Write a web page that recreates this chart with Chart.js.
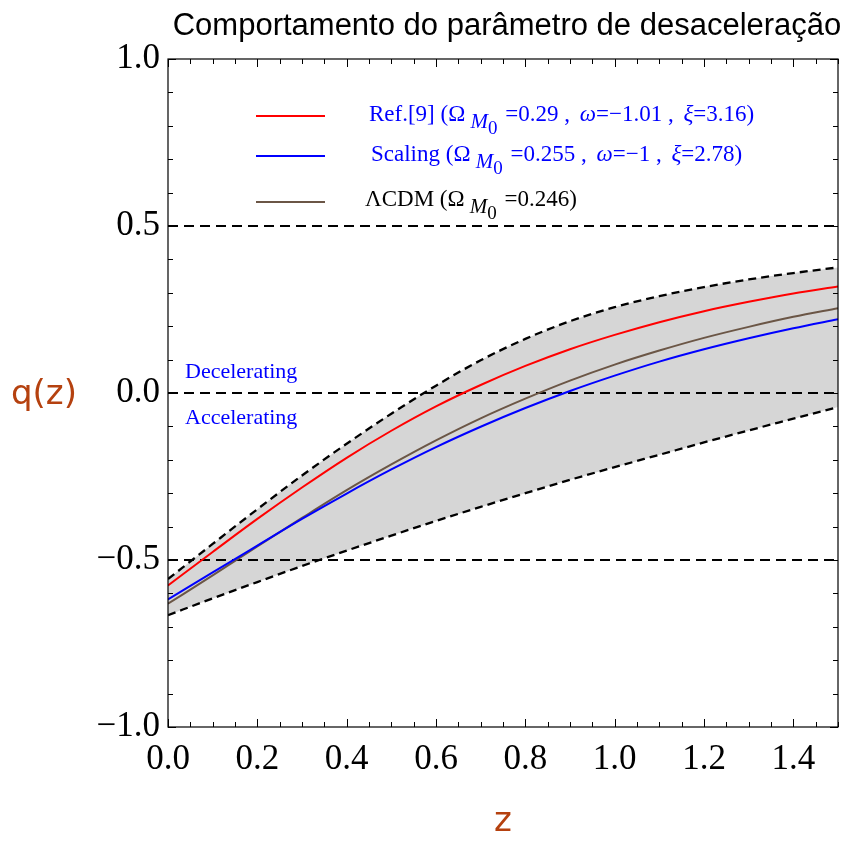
<!DOCTYPE html>
<html>
<head>
<meta charset="utf-8">
<script src="https://cdn.jsdelivr.net/npm/chart.js@4.4.1/dist/chart.umd.min.js"></script>
<style>
html, body { margin: 0; padding: 0; background: #ffffff; }
canvas { display: block; }
</style>
</head>
<body>
<canvas id="c" width="855" height="844"></canvas>
<script>
// Redshift samples
const zValues = [0.0, 0.1, 0.2, 0.3, 0.4, 0.5, 0.6, 0.7, 0.8, 0.9, 1.0, 1.1, 1.2, 1.3, 1.4, 1.5];
// Deceleration parameter q(z) for each model
const qRef9    = [-0.576, -0.476, -0.377, -0.283, -0.194, -0.113, -0.040, 0.024, 0.081, 0.131, 0.174, 0.212, 0.245, 0.273, 0.298, 0.319];
const qScaling = [-0.618, -0.537, -0.457, -0.377, -0.301, -0.229, -0.162, -0.101, -0.045, 0.006, 0.052, 0.094, 0.131, 0.164, 0.194, 0.221];
const qLCDM    = [-0.631, -0.546, -0.459, -0.374, -0.291, -0.214, -0.142, -0.076, -0.017, 0.037, 0.085, 0.127, 0.165, 0.198, 0.228, 0.254];
// Confidence band limits
const qUpper   = [-0.557, -0.452, -0.348, -0.247, -0.152, -0.062, 0.022, 0.098, 0.162, 0.215, 0.257, 0.290, 0.317, 0.340, 0.359, 0.376];
const qLower   = [-0.665, -0.615, -0.566, -0.518, -0.472, -0.427, -0.383, -0.341, -0.300, -0.260, -0.222, -0.185, -0.148, -0.112, -0.077, -0.042];
// Horizontal reference levels
const refLevels = [0.5, 0.0, -0.5];
// Axis ticks
const xTickValues = [0.0, 0.2, 0.4, 0.6, 0.8, 1.0, 1.2, 1.4];
const yTickValues = [-1.0, -0.5, 0.0, 0.5, 1.0];
const xRange = [0, 1.5];
const yRange = [-1, 1];

const titleText = 'Comportamento do parâmetro de desaceleração';
const xTitle = 'z';
const yTitle = 'q(z)';

const pts = (ys) => zValues.map((z, i) => ({ x: z, y: ys[i] }));

const W = 855, H = 844;
const AREA = { left: 168, top: 59, right: 838, bottom: 727 };
const AXIS_COLOR = '#b5410f';
const SERIF = '"Liberation Serif", "Times New Roman", serif';

function fmt(v) {
  const s = Math.abs(v).toFixed(1);
  return v < 0 ? '\u2212' + s : s;
}

const datasets = [];
// shaded band: upper limit filled down to the lower limit (next dataset)
datasets.push({
  label: 'upper', data: pts(qUpper), borderColor: '#000', borderWidth: 2.3,
  borderDash: [8, 5], fill: '+1', backgroundColor: '#d6d6d6', order: 6
});
datasets.push({
  label: 'lower', data: pts(qLower), borderColor: '#000', borderWidth: 2.3,
  borderDash: [8, 5], fill: false, order: 5
});
refLevels.forEach((lvl) => {
  datasets.push({
    label: 'ref' + lvl, data: [{ x: xRange[0], y: lvl }, { x: xRange[1], y: lvl }],
    borderColor: '#000', borderWidth: 2, borderDash: [10, 6], fill: false, order: 3
  });
});
datasets.push({ label: 'LCDM', data: pts(qLCDM), borderColor: '#6b5646', borderWidth: 2, fill: false, order: 2 });
datasets.push({ label: 'Scaling', data: pts(qScaling), borderColor: '#0000ff', borderWidth: 2, fill: false, order: 1 });
datasets.push({ label: 'Ref9', data: pts(qRef9), borderColor: '#ff0000', borderWidth: 2, fill: false, order: 0 });

function drawRuns(ctx, x, baseline, runs, color, size) {
  ctx.save();
  ctx.fillStyle = color;
  ctx.textBaseline = 'alphabetic';
  ctx.textAlign = 'left';
  let cx = x;
  runs.forEach((r) => {
    const s = r.size || size;
    ctx.font = (r.italic ? 'italic ' : '') + s + 'px ' + SERIF;
    ctx.fillText(r.t, cx, baseline + (r.dy || 0));
    cx += ctx.measureText(r.t).width + (r.gap || 0);
  });
  ctx.restore();
}

const framePlugin = {
  id: 'framePlugin',
  afterDraw(chart) {
    const ctx = chart.ctx;
    const xs = chart.scales.x, ys = chart.scales.y;
    const L = chart.chartArea.left, R = chart.chartArea.right;
    const T = chart.chartArea.top, B = chart.chartArea.bottom;
    ctx.save();
    // frame
    ctx.strokeStyle = '#000';
    ctx.lineWidth = 1.2;
    ctx.strokeRect(L, T, R - L, B - T);
    // inward ticks on all four sides
    ctx.lineWidth = 1;
    for (let k = 0; k <= 30; k++) {
      const v = k * 0.05;
      const px = Math.round(xs.getPixelForValue(v)) + 0.5;
      const len = (k % 4 === 0) ? 8 : 5;
      ctx.beginPath();
      ctx.moveTo(px, B); ctx.lineTo(px, B - len);
      ctx.moveTo(px, T); ctx.lineTo(px, T + len);
      ctx.stroke();
    }
    for (let k = -10; k <= 10; k++) {
      const v = k * 0.1;
      const py = Math.round(ys.getPixelForValue(v)) + 0.5;
      const len = (k % 5 === 0) ? 8 : 5;
      ctx.beginPath();
      ctx.moveTo(L, py); ctx.lineTo(L + len, py);
      ctx.moveTo(R, py); ctx.lineTo(R - len, py);
      ctx.stroke();
    }
    // title
    ctx.fillStyle = '#000';
    ctx.font = '31px "Liberation Sans", Arial, sans-serif';
    ctx.textAlign = 'center';
    ctx.textBaseline = 'alphabetic';
    ctx.fillText(titleText, 507, 35);
    // axis titles
    ctx.fillStyle = AXIS_COLOR;
    ctx.font = '34px "DejaVu Sans", sans-serif';
    ctx.textBaseline = 'middle';
    ctx.fillText(yTitle, 44, 395);
    ctx.fillText(xTitle, 503, 822);
    // region labels
    ctx.fillStyle = '#0000ff';
    ctx.font = '22px ' + SERIF;
    ctx.textAlign = 'left';
    ctx.textBaseline = 'alphabetic';
    ctx.fillText('Decelerating', 185, 378);
    ctx.fillText('Accelerating', 185, 424);
    // legend
    const sub = [{ t: ' M', italic: true, size: 21, dy: 7 }, { t: '0', size: 19, dy: 13, gap: 2 }];
    const legend = [
      { color: '#ff0000', textColor: '#0000ff', y: 116, base: 121, x: 369,
        runs: [{ t: 'Ref.[9] (\u03a9' }].concat(sub, [{ t: ' =0.29 , ', gap: 4 }, { t: '\u03c9', italic: true },
               { t: '=\u22121.01 , ', gap: 4 }, { t: '\u03be', italic: true }, { t: '=3.16)' }]) },
      { color: '#0000ff', textColor: '#0000ff', y: 156, base: 161, x: 371,
        runs: [{ t: 'Scaling (\u03a9' }].concat(sub, [{ t: ' =0.255 , ', gap: 4 }, { t: '\u03c9', italic: true },
               { t: '=\u22121 , ', gap: 4 }, { t: '\u03be', italic: true }, { t: '=2.78)' }]) },
      { color: '#6b5646', textColor: '#000000', y: 202, base: 206, x: 365,
        runs: [{ t: '\u039bCDM (\u03a9' }].concat(sub, [{ t: ' =0.246)' }]) }
    ];
    legend.forEach((e) => {
      ctx.strokeStyle = e.color;
      ctx.lineWidth = 2;
      ctx.setLineDash([]);
      ctx.beginPath();
      ctx.moveTo(256, e.y); ctx.lineTo(325, e.y);
      ctx.stroke();
      drawRuns(ctx, e.x, e.base, e.runs, e.textColor, 23);
    });
    ctx.restore();
  }
};

new Chart(document.getElementById('c'), {
  type: 'line',
  data: { datasets },
  options: {
    responsive: false,
    animation: false,
    devicePixelRatio: 1,
    layout: { padding: { left: 0, top: AREA.top, right: W - AREA.right, bottom: 0 } },
    elements: { point: { radius: 0 }, line: { cubicInterpolationMode: 'monotone' } },
    plugins: { legend: { display: false }, title: { display: false }, tooltip: { enabled: false } },
    scales: {
      x: {
        type: 'linear', min: xRange[0], max: xRange[1],
        grid: { display: false, drawTicks: false }, border: { display: false },
        afterBuildTicks: (s) => { s.ticks = xTickValues.map((v) => ({ value: v })); },
        afterFit: (s) => { s.height = H - AREA.bottom; },
        ticks: { callback: (v) => fmt(v), color: '#000', padding: 12, maxRotation: 0, autoSkip: false,
                 font: { family: SERIF, size: 35 } }
      },
      y: {
        type: 'linear', min: yRange[0], max: yRange[1],
        grid: { display: false, drawTicks: false }, border: { display: false },
        afterBuildTicks: (s) => { s.ticks = yTickValues.map((v) => ({ value: v })); },
        afterFit: (s) => { s.width = AREA.left; },
        ticks: { callback: (v) => fmt(v), color: '#000', padding: 8, autoSkip: false,
                 font: { family: SERIF, size: 35 } }
      }
    }
  },
  plugins: [framePlugin]
});
</script>
</body>
</html>
